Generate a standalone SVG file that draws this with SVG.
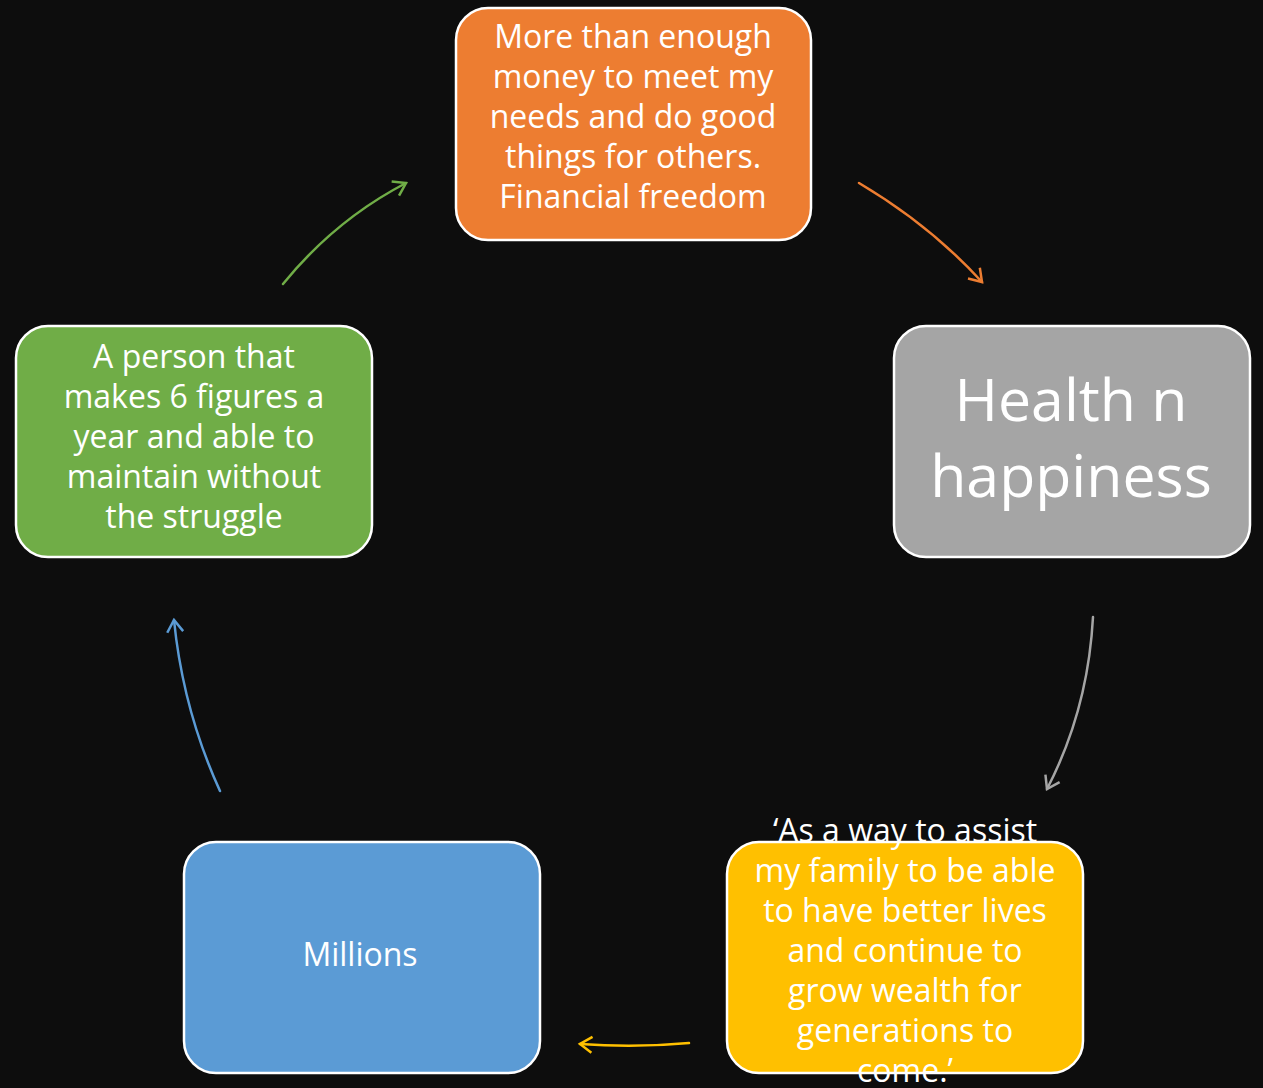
<svg xmlns="http://www.w3.org/2000/svg" width="1263" height="1088" viewBox="0 0 1263 1088">
<defs>
<style>
.box{stroke:#ffffff;stroke-width:2.5}
.t{font-family:"Open Sans","Liberation Sans",sans-serif;fill:#ffffff;text-anchor:middle;font-size:32px}
.big{font-size:59px}
.c{fill:none;stroke-width:2.5;stroke-linecap:round}
</style>
<marker id="mo" viewBox="0 0 20 20" refX="14" refY="10" markerWidth="20" markerHeight="20" markerUnits="userSpaceOnUse" orient="auto"><path d="M2,2 L14,10 L2,18" fill="none" stroke="#ED7D31" stroke-width="2.5"/></marker>
<marker id="mg" viewBox="0 0 20 20" refX="14" refY="10" markerWidth="20" markerHeight="20" markerUnits="userSpaceOnUse" orient="auto"><path d="M2,2 L14,10 L2,18" fill="none" stroke="#A5A5A5" stroke-width="2.5"/></marker>
<marker id="my" viewBox="0 0 20 20" refX="14" refY="10" markerWidth="20" markerHeight="20" markerUnits="userSpaceOnUse" orient="auto"><path d="M2,2 L14,10 L2,18" fill="none" stroke="#FFC000" stroke-width="2.5"/></marker>
<marker id="mb" viewBox="0 0 20 20" refX="14" refY="10" markerWidth="20" markerHeight="20" markerUnits="userSpaceOnUse" orient="auto"><path d="M2,2 L14,10 L2,18" fill="none" stroke="#5B9BD5" stroke-width="2.5"/></marker>
<marker id="mgr" viewBox="0 0 20 20" refX="14" refY="10" markerWidth="20" markerHeight="20" markerUnits="userSpaceOnUse" orient="auto"><path d="M2,2 L14,10 L2,18" fill="none" stroke="#70AD47" stroke-width="2.5"/></marker>
</defs>
<rect width="1263" height="1088" fill="#0D0D0D"/>
<g id="connectors">
<path class="c" stroke="#ED7D31" d="M859,183 Q930,225 982,282" marker-end="url(#mo)"/>
<path class="c" stroke="#A5A5A5" d="M1093,617 Q1088,710 1047,789" marker-end="url(#mg)"/>
<path class="c" stroke="#FFC000" d="M689,1043 Q635,1048 580,1044" marker-end="url(#my)"/>
<path class="c" stroke="#5B9BD5" d="M220,791 Q183,710 174,620" marker-end="url(#mb)"/>
<path class="c" stroke="#70AD47" d="M283,284 Q335,220 406,183" marker-end="url(#mgr)"/>
</g>
<g id="node-orange">
<rect class="box" x="456" y="8" width="355" height="232" rx="32" fill="#ED7D31"/>
<text class="t" x="633" y="48">More than enough</text>
<text class="t" x="633" y="88">money to meet my</text>
<text class="t" x="633" y="128">needs and do good</text>
<text class="t" x="633" y="168">things for others.</text>
<text class="t" x="633" y="208">Financial freedom</text>
</g>
<g id="node-gray">
<rect class="box" x="894" y="326" width="356" height="231" rx="32" fill="#A5A5A5"/>
<text class="t big" x="1071" y="421">Health n</text>
<text class="t big" x="1071" y="497">happiness</text>
</g>
<g id="node-yellow">
<rect class="box" x="727" y="842" width="356" height="231" rx="32" fill="#FFC000"/>
<text class="t" x="905" y="842">‘As a way to assist</text>
<text class="t" x="905" y="882">my family to be able</text>
<text class="t" x="905" y="922">to have better lives</text>
<text class="t" x="905" y="962">and continue to</text>
<text class="t" x="905" y="1002">grow wealth for</text>
<text class="t" x="905" y="1042">generations to</text>
<text class="t" x="905" y="1082">come.’</text>
</g>
<g id="node-blue">
<rect class="box" x="184" y="842" width="356" height="231" rx="32" fill="#5B9BD5"/>
<text class="t" x="360" y="966">Millions</text>
</g>
<g id="node-green">
<rect class="box" x="16" y="326" width="356" height="231" rx="32" fill="#70AD47"/>
<text class="t" x="194" y="368">A person that</text>
<text class="t" x="194" y="408">makes 6 figures a</text>
<text class="t" x="194" y="448">year and able to</text>
<text class="t" x="194" y="488">maintain without</text>
<text class="t" x="194" y="528">the struggle</text>
</g>
</svg>
